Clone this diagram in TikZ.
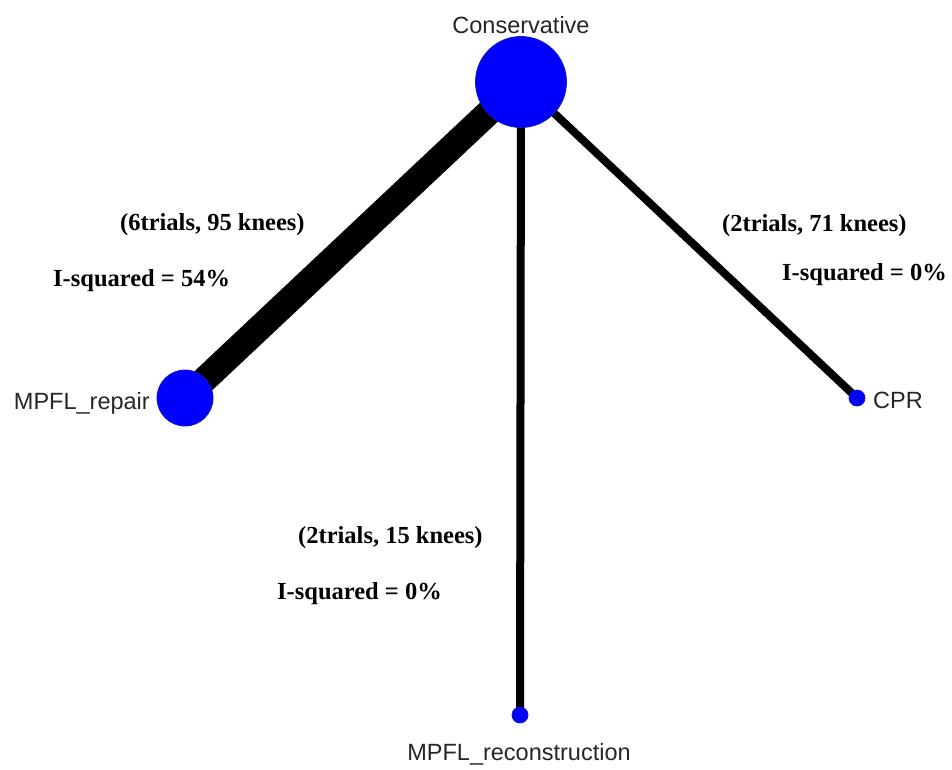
\documentclass[tikz,border=0pt]{standalone}
\usepackage{fontspec}
\setmainfont{Liberation Sans}
\newfontfamily\timesfont{Liberation Serif}
\usetikzlibrary{backgrounds}
\definecolor{nodeblue}{RGB}{0,0,255}
\definecolor{rimblue}{RGB}{20,20,200}
\begin{document}
\begin{tikzpicture}[x=1pt,y=-1pt,
    treat/.style={circle, fill=nodeblue, draw=rimblue, line width=0.8pt, inner sep=0pt},
    treatlab/.style={font=\fontsize{23.5}{27}\selectfont, text=black!85, inner sep=0pt},
    edgelab/.style={font=\timesfont\bfseries\fontsize{24.5}{28}\selectfont, inner sep=0pt}]
    \useasboundingbox (0,0) rectangle (952,769);

    % treatments
    \node[treat, minimum size=91] (cons) at (521,82) {};
    \node[treat, minimum size=56] (rep) at (185,398) {};
    \node[treat, minimum size=16] (cpr) at (857,398) {};
    \node[treat, minimum size=16] (recon) at (520,715) {};

    \node[treatlab] (conslab) at (521,25) {Conservative};
    \node[treatlab, anchor=base east] (replab) at (150,409) {MPFL\_repair};
    \node[treatlab, anchor=base west] (cprlab) at (873,408) {CPR};
    \node[treatlab, anchor=base] (reconlab) at (519,760) {MPFL\_reconstruction};

    % comparisons
    \begin{pgfonlayer}{background}
        \draw[line width=26] (cons.center) -- (rep.center);
        \draw[line width=8] (cons.center) -- (cpr.center);
        \draw[line width=8] (cons.center) -- (recon.center);
    \end{pgfonlayer}

    % trial counts and heterogeneity
    \node[edgelab, anchor=base west] (reptrials) at (120,230) {(6trials, 95 knees)};
    \node[edgelab, anchor=base west] (repisq) at (53,286) {I-squared = 54\%};
    \node[edgelab, anchor=base west] (cprtrials) at (722,231) {(2trials, 71 knees)};
    \node[edgelab, anchor=base west] (cprisq) at (782,280) {I-squared = 0\%};
    \node[edgelab, anchor=base west] (recontrials) at (298,543) {(2trials, 15 knees)};
    \node[edgelab, anchor=base west] (reconisq) at (277,599) {I-squared = 0\%};
\end{tikzpicture}
\end{document}
